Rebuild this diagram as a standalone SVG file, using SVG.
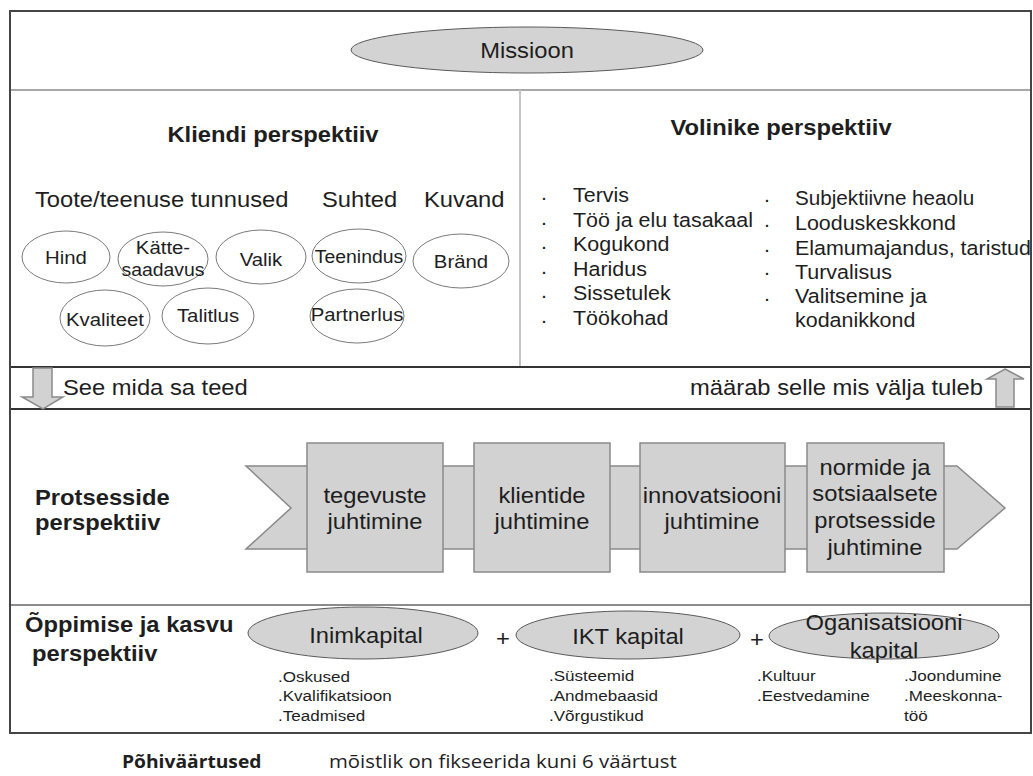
<svg xmlns="http://www.w3.org/2000/svg" width="1033" height="776" viewBox="0 0 1033 776">
  <style>
    .t { font-family: "Liberation Sans", Arial, sans-serif; fill: #1e1e1e; }
    .b { font-weight: bold; }
    .h { font-size: 21.6px; }
    .m { font-size: 18.5px; }
    .l { font-size: 19.5px; }
    .s { font-size: 15.5px; }
    .os { font-family: "Open Sans", "Noto Sans", sans-serif; fill: #1e1e1e; }
    .c { text-anchor: middle; }
    .e { text-anchor: end; }
    .oval { fill: #ffffff; stroke: #7a7a7a; stroke-width: 1; }
    .goval { fill: #d3d3d3; stroke: #5a5a5a; stroke-width: 1; }
    .box { fill: #d2d2d2; stroke: #8a8a8a; stroke-width: 1.5; }
    .arrow { fill: #d2d2d2; stroke: #8a8a8a; stroke-width: 1.5; }
  </style>

  <rect width="1033" height="776" fill="#ffffff"/>

  <!-- outer frame and section rules -->
  <g id="frame" fill="none">
    <line x1="10" y1="90" x2="1031" y2="90" stroke="#a8a8a8" stroke-width="2"/>
    <line x1="520" y1="90" x2="520" y2="367" stroke="#c4c4c4" stroke-width="2"/>
    <line x1="10" y1="367" x2="1031" y2="367" stroke="#333333" stroke-width="2"/>
    <line x1="10" y1="409" x2="1031" y2="409" stroke="#333333" stroke-width="2"/>
    <line x1="10" y1="605" x2="1031" y2="605" stroke="#8c8c8c" stroke-width="2"/>
    <rect x="10" y="11" width="1021" height="722" stroke="#454545" stroke-width="2"/>
  </g>

  <!-- mission -->
  <g id="missioon">
    <ellipse class="goval" cx="527" cy="50" rx="176" ry="23"/>
    <text class="t h c" transform="translate(527 58) scale(1.1 1)">Missioon</text>
  </g>

  <!-- customer perspective -->
  <g id="kliendi-perspektiiv">
    <text class="t h b c" transform="translate(273 142) scale(1.1 1)">Kliendi perspektiiv</text>
    <text class="t h" transform="translate(35 207) scale(1.1 1)">Toote/teenuse tunnused</text>
    <text class="t h" transform="translate(322 207) scale(1.1 1)">Suhted</text>
    <text class="t h" transform="translate(424 207) scale(1.1 1)">Kuvand</text>
  </g>
  <g id="hind">
    <ellipse class="oval" cx="66" cy="257" rx="44" ry="26"/>
    <text class="t m c" transform="translate(66 264) scale(1.1 1)">Hind</text>
  </g>
  <g id="kattesaadavus">
    <ellipse class="oval" cx="163" cy="259" rx="45" ry="27"/>
    <text class="t m c" transform="translate(163 254) scale(1.1 1)">Kätte-</text>
    <text class="t m c" transform="translate(163 276) scale(1.05 1)">saadavus</text>
  </g>
  <g id="valik">
    <ellipse class="oval" cx="261" cy="257" rx="45" ry="27"/>
    <text class="t m c" transform="translate(261 266) scale(1.1 1)">Valik</text>
  </g>
  <g id="teenindus">
    <ellipse class="oval" cx="359" cy="256" rx="47" ry="27"/>
    <text class="t m c" transform="translate(359 263) scale(1.05 1)">Teenindus</text>
  </g>
  <g id="brand">
    <ellipse class="oval" cx="461" cy="261" rx="48" ry="27"/>
    <text class="t m c" transform="translate(461 268) scale(1.1 1)">Bränd</text>
  </g>
  <g id="kvaliteet">
    <ellipse class="oval" cx="105" cy="318" rx="45" ry="28"/>
    <text class="t m c" transform="translate(105 326) scale(1.1 1)">Kvaliteet</text>
  </g>
  <g id="talitlus">
    <ellipse class="oval" cx="208" cy="316" rx="46" ry="28"/>
    <text class="t m c" transform="translate(208 322) scale(1.1 1)">Talitlus</text>
  </g>
  <g id="partnerlus">
    <ellipse class="oval" cx="357" cy="316" rx="47" ry="27"/>
    <text class="t m c" transform="translate(357 321) scale(1.1 1)">Partnerlus</text>
  </g>

  <!-- stakeholder perspective -->
  <g id="volinike-perspektiiv">
    <text class="t h b c" transform="translate(781 135) scale(1.1 1)">Volinike perspektiiv</text>
    <g class="t l">
      <text transform="translate(541 200) scale(1.1 1)">.</text>
      <text transform="translate(541 225) scale(1.1 1)">.</text>
      <text transform="translate(541 249) scale(1.1 1)">.</text>
      <text transform="translate(541 274) scale(1.1 1)">.</text>
      <text transform="translate(541 298) scale(1.1 1)">.</text>
      <text transform="translate(541 323) scale(1.1 1)">.</text>
      <text transform="translate(573 202) scale(1.1 1)">Tervis</text>
      <text transform="translate(573 227) scale(1.1 1)">Töö ja elu tasakaal</text>
      <text transform="translate(573 251) scale(1.1 1)">Kogukond</text>
      <text transform="translate(573 276) scale(1.1 1)">Haridus</text>
      <text transform="translate(573 300) scale(1.1 1)">Sissetulek</text>
      <text transform="translate(573 325) scale(1.1 1)">Töökohad</text>
      <text transform="translate(764 202) scale(1.1 1)">.</text>
      <text transform="translate(764 227) scale(1.1 1)">.</text>
      <text transform="translate(764 252) scale(1.1 1)">.</text>
      <text transform="translate(764 275) scale(1.1 1)">.</text>
      <text transform="translate(764 301) scale(1.1 1)">.</text>
      <text transform="translate(795 205) scale(1.06 1)">Subjektiivne heaolu</text>
      <text transform="translate(795 230) scale(1.1 1)">Looduskeskkond</text>
      <text transform="translate(795 255) scale(1.1 1)">Elamumajandus, taristud</text>
      <text transform="translate(795 279) scale(1.1 1)">Turvalisus</text>
      <text transform="translate(795 303) scale(1.1 1)">Valitsemine ja</text>
      <text transform="translate(795 327) scale(1.1 1)">kodanikkond</text>
    </g>
  </g>

  <!-- cause and effect band -->
  <g id="seos">
    <text class="t h" transform="translate(63 395) scale(1.1 1)">See mida sa teed</text>
    <text class="t h e" transform="translate(983 395) scale(1.1 1)">määrab selle mis välja tuleb</text>
  </g>

  <g id="connectors">
    <polygon class="arrow" points="33,368 52,368 52,397 63,397 43,409 22,397 33,397"/>
    <polygon class="arrow" points="1005,369 1024,379 1014,379 1014,407 996,407 996,379 987,379"/>
  </g>

  <!-- process perspective -->
  <g id="protsesside-perspektiiv">
    <text class="t h b" transform="translate(35 505) scale(1.1 1)">Protsesside</text>
    <text class="t h b" transform="translate(35 530) scale(1.1 1)">perspektiiv</text>
    <polygon class="box" points="246,466 957,466 1005,508 957,549 246,549 291,508"/>
  </g>
  <g id="tegevuste-juhtimine">
    <rect class="box" x="307" y="443" width="136" height="129"/>
    <text class="t h c" transform="translate(375 503) scale(1.1 1)">tegevuste</text>
    <text class="t h c" transform="translate(375 529) scale(1.1 1)">juhtimine</text>
  </g>
  <g id="klientide-juhtimine">
    <rect class="box" x="474" y="443" width="136" height="129"/>
    <text class="t h c" transform="translate(542 503) scale(1.1 1)">klientide</text>
    <text class="t h c" transform="translate(542 529) scale(1.1 1)">juhtimine</text>
  </g>
  <g id="innovatsiooni-juhtimine">
    <rect class="box" x="640" y="443" width="145" height="129"/>
    <text class="t h c" transform="translate(712 503) scale(1.1 1)">innovatsiooni</text>
    <text class="t h c" transform="translate(712 529) scale(1.1 1)">juhtimine</text>
  </g>
  <g id="normide-juhtimine">
    <rect class="box" x="807" y="443" width="137" height="129"/>
    <text class="t h c" transform="translate(875 475) scale(1.1 1)">normide ja</text>
    <text class="t h c" transform="translate(875 501) scale(1.1 1)">sotsiaalsete</text>
    <text class="t h c" transform="translate(875 528) scale(1.1 1)">protsesside</text>
    <text class="t h c" transform="translate(875 555) scale(1.1 1)">juhtimine</text>
  </g>

  <!-- learning and growth perspective -->
  <g id="oppimise-perspektiiv">
    <text class="t h b" transform="translate(25 632) scale(1.1 1)">Õppimise ja kasvu</text>
    <text class="t h b" transform="translate(32 661) scale(1.1 1)">perspektiiv</text>
    <text class="t h" transform="translate(496 646) scale(1.1 1)">+</text>
    <text class="t h" transform="translate(750 647) scale(1.1 1)">+</text>
  </g>
  <g id="inimkapital">
    <ellipse class="goval" cx="363" cy="633" rx="115" ry="26"/>
    <text class="t h c" transform="translate(366 643) scale(1.1 1)">Inimkapital</text>
    <g class="t s">
      <text transform="translate(278 682) scale(1.1 1)">.Oskused</text>
      <text transform="translate(278 701) scale(1.1 1)">.Kvalifikatsioon</text>
      <text transform="translate(278 721) scale(1.1 1)">.Teadmised</text>
    </g>
  </g>
  <g id="ikt-kapital">
    <ellipse class="goval" cx="628" cy="635" rx="112" ry="24"/>
    <text class="t h c" transform="translate(628 644) scale(1.1 1)">IKT kapital</text>
    <g class="t s">
      <text transform="translate(549 681) scale(1.1 1)">.Süsteemid</text>
      <text transform="translate(549 701) scale(1.1 1)">.Andmebaasid</text>
      <text transform="translate(549 721) scale(1.1 1)">.Võrgustikud</text>
    </g>
  </g>
  <g id="organisatsiooni-kapital">
    <ellipse class="goval" cx="884" cy="636" rx="115" ry="23"/>
    <text class="t h c" transform="translate(884 630) scale(1.1 1)">Oganisatsiooni</text>
    <text class="t h c" transform="translate(884 658) scale(1.1 1)">kapital</text>
    <g class="t s">
      <text transform="translate(757 681) scale(1.1 1)">.Kultuur</text>
      <text transform="translate(757 701) scale(1.1 1)">.Eestvedamine</text>
      <text transform="translate(904 681) scale(1.1 1)">.Joondumine</text>
      <text transform="translate(904 701) scale(1.1 1)">.Meeskonna-</text>
      <text transform="translate(904 721) scale(1.1 1)">töö</text>
    </g>
  </g>

  <!-- core values -->
  <g id="pohivaartused">
    <text class="os b" style="font-size:17.5px" transform="translate(122 768) scale(1.1 1)">Põhiväärtused</text>
    <text class="os" style="font-size:18.5px" transform="translate(329 768) scale(1.1 1)">mõistlik on fikseerida kuni 6 väärtust</text>
  </g>
</svg>
